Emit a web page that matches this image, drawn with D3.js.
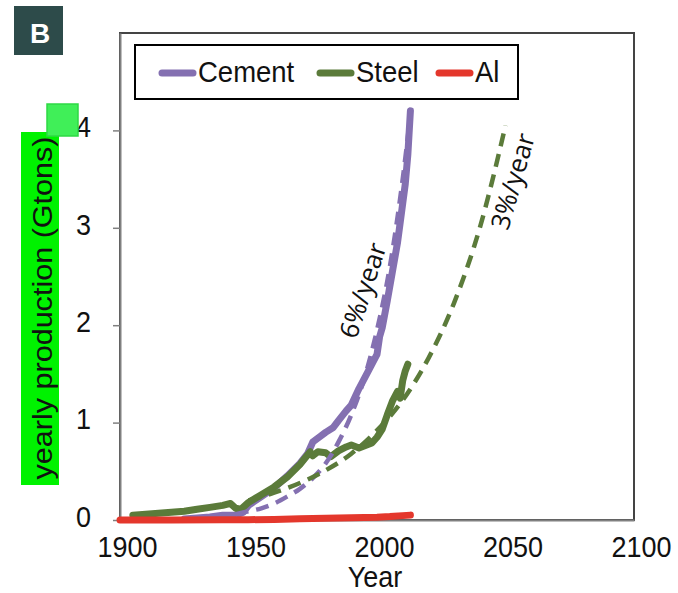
<!DOCTYPE html>
<html>
<head>
<meta charset="utf-8">
<script src="https://cdn.jsdelivr.net/npm/d3@7"></script>
<style>
  body { margin: 0; background: #fff; }
  svg { display: block; font-family: "Liberation Sans", Arial, sans-serif; }
  .tall { transform-box: fill-box; transform-origin: center; transform: scaleY(1.1); }
</style>
</head>
<body>
<script>
// values (Gtons per year)
var cementYear = [1925, 1930, 1935, 1940, 1945, 1948, 1950, 1955, 1960, 1965, 1970, 1973, 1975, 1978, 1980, 1983, 1985, 1988, 1990, 1993, 1995, 1997, 2000, 2001, 2002, 2004, 2006, 2008, 2009, 2010, 2011, 2012, 2013];
var cementGt   = [0.01, 0.02, 0.03, 0.05, 0.05, 0.08, 0.15, 0.24, 0.33, 0.45, 0.58, 0.68, 0.80, 0.86, 0.90, 0.95, 1.02, 1.12, 1.18, 1.35, 1.45, 1.55, 1.70, 1.88, 1.97, 2.25, 2.55, 2.85, 3.05, 3.25, 3.45, 3.75, 4.2];

var steelYear = [1905, 1910, 1915, 1920, 1925, 1930, 1935, 1940, 1943, 1945, 1947, 1950, 1955, 1960, 1965, 1970, 1974, 1975, 1977, 1980, 1982, 1985, 1988, 1990, 1993, 1996, 1998, 2000, 2002, 2004, 2006, 2008, 2009, 2010, 2011, 2012];
var steelGt   = [0.05, 0.06, 0.07, 0.08, 0.09, 0.11, 0.13, 0.15, 0.17, 0.12, 0.11, 0.18, 0.26, 0.34, 0.44, 0.57, 0.70, 0.66, 0.70, 0.69, 0.65, 0.71, 0.75, 0.77, 0.74, 0.77, 0.79, 0.85, 0.93, 1.08, 1.22, 1.32, 1.25, 1.43, 1.53, 1.6];

var alYear = [1900, 1920, 1940, 1950, 1960, 1970, 1980, 1990, 2000, 2005, 2010, 2013];
var alGt   = [0.001, 0.001, 0.002, 0.003, 0.006, 0.012, 0.018, 0.022, 0.028, 0.035, 0.045, 0.05];

// growth-rate guide lines
var cementFitYear = [1945, 1950, 1955, 1960, 1965, 1970, 1975, 1980, 1985, 1990, 1995, 2000, 2005, 2010, 2014];
var cementFitGt   = [0.06, 0.09, 0.12, 0.17, 0.24, 0.32, 0.43, 0.58, 0.80, 1.08, 1.45, 1.95, 2.6, 3.5, 4.4];
var steelFitYear = [1950, 1960, 1970, 1980, 1990, 2000, 2010, 2020, 2030, 2040, 2050];
var steelFitGt   = [0.2, 0.28, 0.38, 0.51, 0.68, 0.92, 1.23, 1.66, 2.23, 3.0, 4.05];

var legendNames = ["Cement", "Steel", "Al"];
var xTicks = [1900, 1950, 2000, 2050, 2100];
var yTicks = [0, 1, 2, 3, 4];

var colors = { Cement: "#8470b1", Steel: "#5b7b3a", Al: "#e4372c" };

var width = 678;
var height = 593;

var svg = d3.select("body")
  .append("svg")
  .attr("width", width)
  .attr("height", height);

var x = d3.scaleLinear().domain([1900, 2100]).range([120, 634]);
var y = d3.scaleLinear().domain([0, 5]).range([520, 33]);

// panel letter
svg.append("rect")
  .attr("x", 14).attr("y", 6).attr("width", 49).attr("height", 49)
  .attr("fill", "#2d4b4a");
svg.append("text")
  .attr("x", 40).attr("y", 43)
  .attr("text-anchor", "middle")
  .attr("font-size", 28)
  .attr("font-weight", "bold")
  .attr("fill", "#fff")
  .text("B");

// plot frame
svg.append("rect")
  .attr("x", 120).attr("y", 33)
  .attr("width", 634 - 120).attr("height", 520 - 33)
  .attr("fill", "none")
  .attr("stroke", "#444")
  .attr("stroke-width", 2);

// y axis
var yAxis = svg.append("g")
  .attr("transform", "translate(120,0)")
  .call(d3.axisLeft(y).tickValues(yTicks).tickSize(7).tickSizeOuter(0).tickPadding(22).tickFormat(d3.format("d")));
yAxis.select(".domain").attr("stroke", "#808080").attr("stroke-width", 2);
yAxis.selectAll(".tick line").attr("stroke", "#808080").attr("stroke-width", 1.5);
yAxis.selectAll("text")
  .attr("class", "tall")
  .attr("font-size", 27)
  .attr("font-family", "Liberation Sans, Arial, sans-serif")
  .attr("fill", "#111")
  .attr("dy", "0.2em");

// x axis
var xAxis = svg.append("g")
  .attr("transform", "translate(0,520)")
  .call(d3.axisBottom(x).tickValues(xTicks).tickSize(0).tickSizeOuter(0).tickFormat(d3.format("d")));
xAxis.select(".domain").attr("stroke", "#808080").attr("stroke-width", 2);
xAxis.selectAll("text")
  .attr("class", "tall")
  .attr("font-size", 27)
  .attr("font-family", "Liberation Sans, Arial, sans-serif")
  .attr("fill", "#111")
  .attr("x", 7)
  .attr("y", 36)
  .attr("dy", 0);

svg.append("text")
  .attr("class", "tall")
  .attr("x", 375).attr("y", 586)
  .attr("text-anchor", "middle")
  .attr("font-size", 27)
  .attr("fill", "#111")
  .text("Year");

// y label with highlight
svg.append("rect")
  .attr("x", 21).attr("y", 132).attr("width", 38).attr("height", 353)
  .attr("fill", "#00f200");
svg.append("rect")
  .attr("x", 47).attr("y", 104).attr("width", 31).attr("height", 32)
  .attr("fill", "#40ef58")
  .attr("stroke", "#2ed944")
  .attr("stroke-width", 1.5);
svg.append("text")
  .attr("transform", "translate(52,308) rotate(-90)")
  .attr("text-anchor", "middle")
  .attr("font-size", 27.5)
  .attr("fill", "#111")
  .attr("textLength", 343)
  .attr("lengthAdjust", "spacingAndGlyphs")
  .text("yearly production (Gtons)");

function pairs(xs, ys) {
  return xs.map(function(d, i) { return [d, ys[i]]; });
}

var line = d3.line()
  .x(function(d) { return x(d[0]); })
  .y(function(d) { return y(d[1]); });

var smooth = d3.line()
  .curve(d3.curveMonotoneX)
  .x(function(d) { return x(d[0]); })
  .y(function(d) { return y(d[1]); });

var series = [
  { name: "Cement", data: pairs(cementYear, cementGt) },
  { name: "Steel", data: pairs(steelYear, steelGt) },
  { name: "Al", data: pairs(alYear, alGt) }
];

svg.selectAll(".series")
  .data(series)
  .enter().append("path")
  .attr("class", "series")
  .attr("d", function(d) { return line(d.data); })
  .attr("fill", "none")
  .attr("stroke", function(d) { return colors[d.name]; })
  .attr("stroke-width", 7)
  .attr("stroke-linejoin", "round")
  .attr("stroke-linecap", "round");

var fits = [
  { name: "Cement", data: pairs(cementFitYear, cementFitGt) },
  { name: "Steel", data: pairs(steelFitYear, steelFitGt) }
];

svg.selectAll(".fit")
  .data(fits)
  .enter().append("path")
  .attr("class", "fit")
  .attr("d", function(d) { return smooth(d.data); })
  .attr("fill", "none")
  .attr("stroke", function(d) { return colors[d.name]; })
  .attr("stroke-width", 4.5)
  .attr("stroke-dasharray", "13,8");

// rate labels
var rateLabels = [
  { text: "6%/year", year: 1994.2, val: 2.36, angle: -72 },
  { text: "3%/year", year: 2052.5, val: 3.48, angle: -74 }
];
svg.selectAll(".rate")
  .data(rateLabels)
  .enter().append("text")
  .attr("class", "rate")
  .attr("transform", function(d) { return "translate(" + x(d.year) + "," + y(d.val) + ") rotate(" + d.angle + ")"; })
  .attr("text-anchor", "middle")
  .attr("dominant-baseline", "central")
  .attr("font-size", 26)
  .attr("font-family", "Open Sans, Liberation Sans, sans-serif")
  .attr("fill", "#111")
  .text(function(d) { return d.text; });

// legend
svg.append("rect")
  .attr("x", 135).attr("y", 45).attr("width", 383).attr("height", 54)
  .attr("fill", "#fff")
  .attr("stroke", "#000")
  .attr("stroke-width", 2);

var legendX = [160, 318, 437];
var leg = svg.selectAll(".leg")
  .data(legendNames)
  .enter().append("g")
  .attr("class", "leg")
  .attr("transform", function(d, i) { return "translate(" + legendX[i] + ",73)"; });
leg.append("line")
  .attr("x1", 2).attr("x2", 33)
  .attr("stroke", function(d) { return colors[d]; })
  .attr("stroke-width", 7)
  .attr("stroke-linecap", "round");
leg.append("text")
  .attr("class", "tall")
  .attr("x", 38).attr("y", 8)
  .attr("font-size", 27.5)
  .attr("fill", "#111")
  .text(function(d) { return d; });
</script>
</body>
</html>
